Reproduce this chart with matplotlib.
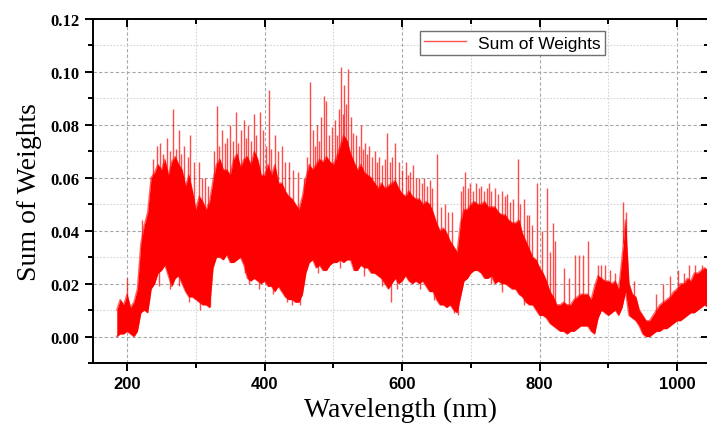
"""Sum of weights versus wavelength, redrawn from a spectrum figure."""

import numpy as np
import matplotlib

matplotlib.use("Agg")
import matplotlib.pyplot as plt
from matplotlib.font_manager import FontProperties
from matplotlib.ticker import MultipleLocator

# Wavelength sampling of the band (nm)
wavelength = np.arange(185, 1050, 5)

# Upper and lower edge of the dense red band, read every 5 nm
band_upper = [
    0.010, 0.014, 0.012, 0.016, 0.011, 0.013, 0.018, 0.035, 0.042, 0.047,  # 185-230
    0.060, 0.062, 0.065, 0.063, 0.067, 0.061, 0.066, 0.068, 0.065, 0.063,  # 235-280
    0.057, 0.061, 0.055, 0.048, 0.053, 0.051, 0.048, 0.051, 0.059, 0.065,  # 285-330
    0.067, 0.063, 0.063, 0.061, 0.067, 0.069, 0.064, 0.067, 0.068, 0.065,  # 335-380
    0.070, 0.067, 0.061, 0.061, 0.065, 0.061, 0.065, 0.058, 0.058, 0.055,  # 385-430
    0.053, 0.052, 0.050, 0.048, 0.053, 0.060, 0.065, 0.063, 0.065, 0.067,  # 435-480
    0.066, 0.068, 0.066, 0.065, 0.068, 0.072, 0.076, 0.074, 0.069, 0.066,  # 485-530
    0.063, 0.065, 0.062, 0.061, 0.060, 0.058, 0.056, 0.058, 0.056, 0.057,  # 535-580
    0.058, 0.059, 0.056, 0.054, 0.053, 0.055, 0.053, 0.052, 0.052, 0.050,  # 585-630
    0.051, 0.050, 0.047, 0.043, 0.040, 0.041, 0.039, 0.036, 0.034, 0.032,  # 635-680
    0.043, 0.048, 0.048, 0.050, 0.051, 0.050, 0.050, 0.051, 0.049, 0.049,  # 685-730
    0.049, 0.047, 0.046, 0.046, 0.044, 0.043, 0.043, 0.044, 0.039, 0.036,  # 735-780
    0.033, 0.030, 0.029, 0.026, 0.024, 0.021, 0.017, 0.015, 0.012, 0.012,  # 785-830
    0.013, 0.012, 0.012, 0.014, 0.015, 0.016, 0.016, 0.016, 0.014, 0.019,  # 835-880
    0.023, 0.022, 0.021, 0.021, 0.020, 0.021, 0.018, 0.030, 0.044, 0.020,  # 885-930
    0.016, 0.015, 0.010, 0.008, 0.006, 0.006, 0.008, 0.010, 0.012, 0.013,  # 935-980
    0.014, 0.015, 0.017, 0.018, 0.020, 0.020, 0.022, 0.021, 0.024, 0.024,  # 985-1030
    0.025, 0.026, 0.025,                                                   # 1035-1045
]
band_lower = [
    0.000, 0.001, 0.001, 0.002, 0.001, 0.000, 0.002, 0.009, 0.010, 0.009,
    0.018, 0.020, 0.024, 0.025, 0.027, 0.023, 0.019, 0.022, 0.023, 0.020,
    0.017, 0.015, 0.015, 0.014, 0.013, 0.012, 0.012, 0.011, 0.026, 0.030,
    0.030, 0.029, 0.031, 0.028, 0.028, 0.029, 0.030, 0.027, 0.022, 0.021,
    0.022, 0.021, 0.020, 0.021, 0.019, 0.019, 0.017, 0.019, 0.017, 0.015,
    0.014, 0.014, 0.013, 0.013, 0.016, 0.024, 0.028, 0.029, 0.026, 0.027,
    0.025, 0.025, 0.027, 0.028, 0.028, 0.029, 0.028, 0.029, 0.029, 0.025,
    0.025, 0.027, 0.026, 0.026, 0.024, 0.024, 0.023, 0.022, 0.020, 0.018,
    0.020, 0.022, 0.020, 0.021, 0.023, 0.021, 0.020, 0.021, 0.020, 0.021,
    0.019, 0.017, 0.017, 0.014, 0.012, 0.012, 0.011, 0.012, 0.010, 0.009,
    0.015, 0.021, 0.022, 0.024, 0.025, 0.025, 0.024, 0.022, 0.022, 0.023,
    0.020, 0.021, 0.020, 0.020, 0.019, 0.018, 0.018, 0.016, 0.015, 0.013,
    0.012, 0.012, 0.010, 0.008, 0.008, 0.007, 0.005, 0.004, 0.003, 0.002,
    0.002, 0.001, 0.002, 0.002, 0.003, 0.004, 0.004, 0.004, 0.002, 0.001,
    0.007, 0.010, 0.009, 0.008, 0.009, 0.010, 0.008, 0.011, 0.017, 0.008,
    0.007, 0.006, 0.004, 0.001, 0.000, 0.000, 0.001, 0.002, 0.002, 0.003,
    0.003, 0.004, 0.005, 0.006, 0.006, 0.007, 0.008, 0.009, 0.009, 0.010,
    0.011, 0.012, 0.011,
]

# Isolated tall lines standing above the band (nm, value)
peak_wavelength = [
    200, 222, 237, 243, 248, 252, 258, 262, 267, 271, 275, 279, 283, 288, 292,
    297, 305, 309, 313, 318, 327, 331, 334, 338, 342, 345, 350, 354, 358, 362,
    365, 370, 373, 376, 380, 384, 388, 393, 398, 402, 406, 410, 415, 419, 425,
    429, 436, 441, 448, 458, 462, 466, 470, 473, 476, 479, 482, 487, 490, 494,
    498, 503, 506, 508, 511, 514, 516, 518, 522, 526, 529, 533, 537, 540, 543,
    546, 549, 552, 556, 560, 563, 567, 571, 575, 578, 582, 585, 590, 595, 600,
    605, 609, 612, 616, 620, 625, 629, 632, 636, 640, 644, 651, 656, 662, 667,
    672, 686, 689, 692, 696, 699, 703, 708, 712, 715, 719, 723, 726, 730, 735,
    739, 745, 749, 752, 757, 762, 768, 772, 777, 781, 784, 789, 796, 803, 811,
    815, 820, 822, 836, 843, 852, 858, 863, 870, 885, 889, 895, 902, 910, 922,
    925, 937, 970, 980, 990, 1002, 1010, 1017, 1026, 1036,
]
peak_value = [
    0.022, 0.044, 0.067, 0.072, 0.073, 0.069, 0.075, 0.070, 0.086, 0.071, 0.078, 0.069, 0.072, 0.068, 0.076,
    0.066, 0.066, 0.060, 0.060, 0.057, 0.070, 0.087, 0.072, 0.078, 0.073, 0.075, 0.080, 0.074, 0.085, 0.073,
    0.078, 0.082, 0.075, 0.080, 0.074, 0.084, 0.076, 0.085, 0.078, 0.072, 0.093, 0.071, 0.076, 0.070, 0.072,
    0.066, 0.066, 0.063, 0.062, 0.060, 0.068, 0.096, 0.078, 0.072, 0.080, 0.074, 0.083, 0.091, 0.089, 0.076,
    0.079, 0.082, 0.076, 0.086, 0.102, 0.084, 0.095, 0.088, 0.101, 0.083, 0.077, 0.076, 0.072, 0.080, 0.071,
    0.073, 0.069, 0.072, 0.068, 0.070, 0.066, 0.068, 0.065, 0.067, 0.077, 0.066, 0.068, 0.073, 0.066, 0.063,
    0.066, 0.061, 0.062, 0.065, 0.060, 0.060, 0.058, 0.060, 0.057, 0.059, 0.056, 0.069, 0.049, 0.050, 0.047,
    0.047, 0.055, 0.057, 0.062, 0.056, 0.058, 0.055, 0.058, 0.056, 0.057, 0.055, 0.056, 0.058, 0.055, 0.056,
    0.054, 0.055, 0.053, 0.054, 0.051, 0.052, 0.067, 0.050, 0.052, 0.046, 0.046, 0.042, 0.058, 0.040, 0.056,
    0.032, 0.043, 0.036, 0.026, 0.022, 0.031, 0.031, 0.031, 0.036, 0.027, 0.027, 0.027, 0.025, 0.024, 0.051,
    0.047, 0.021, 0.016, 0.020, 0.023, 0.025, 0.024, 0.027, 0.027, 0.027,
]

# Short lines dipping below the band (nm, value)
dip_wavelength = [232, 247, 262, 276, 290, 306, 321, 372, 377, 392, 412, 433, 440, 452,
                  478, 509, 545, 571, 584, 593, 626, 647, 657, 676, 681, 730, 746, 778]
dip_value = [0.014, 0.019, 0.018, 0.019, 0.013, 0.010, 0.011, 0.024, 0.020, 0.018, 0.016, 0.013,
             0.012, 0.012, 0.024, 0.026, 0.023, 0.019, 0.013, 0.018, 0.018, 0.014, 0.013, 0.009,
             0.008, 0.020, 0.017, 0.012]

x_tick_values = [200, 400, 600, 800, 1000]
y_tick_values = [0.00, 0.02, 0.04, 0.06, 0.08, 0.10, 0.12]

LINE_RED = "#ff0000"
SERIES_LABEL = "Sum of Weights"


def nearest(values, positions):
    idx = np.clip(np.searchsorted(wavelength, positions), 0, len(wavelength) - 1)
    return np.asarray(values)[idx]


def main() -> None:
    upper = np.array(band_upper)
    lower = np.array(band_lower)
    assert len(upper) == len(lower) == len(wavelength)
    assert len(peak_wavelength) == len(peak_value)
    assert len(dip_wavelength) == len(dip_value)

    fig = plt.figure(figsize=(7.07, 4.27), dpi=100)
    ax = fig.add_axes([0.1311, 0.1475, 0.8717, 0.8057])

    ax.fill_between(wavelength, lower, upper, color=LINE_RED, linewidth=0)
    ax.plot(wavelength, upper, color=LINE_RED, linewidth=1.0, alpha=0.6)
    ax.plot(wavelength, lower, color=LINE_RED, linewidth=1.0, alpha=0.6)

    ax.vlines(peak_wavelength, nearest(upper, peak_wavelength) * 0.8, peak_value,
              color=LINE_RED, linewidth=1.0, alpha=0.7)
    ax.vlines(dip_wavelength, dip_value, nearest(lower, dip_wavelength) * 1.2,
              color=LINE_RED, linewidth=1.0, alpha=0.7)

    # legend handle only
    ax.plot([], [], color="#ff5050", linewidth=1.0, label=SERIES_LABEL)

    ax.set_xlim(150, 1046.4)
    ax.set_ylim(-0.01, 0.12)
    ax.set_xticks(x_tick_values)
    ax.set_yticks(y_tick_values)
    ax.xaxis.set_minor_locator(MultipleLocator(100))
    ax.yaxis.set_minor_locator(MultipleLocator(0.01))
    ax.set_xticklabels([str(v) for v in x_tick_values])
    ax.set_yticklabels([f"{v:.2f}" for v in y_tick_values])

    sans_bold = FontProperties(family="Liberation Sans", weight="bold", size=12)
    serif_bold = FontProperties(family="Liberation Serif", weight="bold", size=12)
    for label in ax.get_xticklabels():
        label.set_fontproperties(sans_bold)
    for label in ax.get_yticklabels():
        label.set_fontproperties(serif_bold)

    ax.set_axisbelow(True)
    ax.grid(which="major", color="#a8a8a8", linestyle=(0, (3, 2)), linewidth=0.8)
    ax.grid(which="minor", color="#d4d4d4", linestyle=(0, (1.5, 1.5)), linewidth=0.8)

    for spine in ax.spines.values():
        spine.set_linewidth(1.4)
    ax.tick_params(which="both", top=True, right=True, width=1.4, direction="out")
    ax.tick_params(which="major", length=6)
    ax.tick_params(which="minor", length=3.5)
    for tick in ax.xaxis.get_major_ticks() + ax.xaxis.get_minor_ticks():
        tick.tick2line.set_marker(3)  # top ticks point inward
    for tick in ax.yaxis.get_major_ticks() + ax.yaxis.get_minor_ticks():
        tick.tick2line.set_marker(0)  # right ticks point inward

    ax.set_xlabel("Wavelength (nm)", fontfamily="Liberation Serif", fontsize=20, labelpad=4)
    ax.set_ylabel("Sum of Weights", fontfamily="Liberation Serif", fontsize=20, labelpad=6)

    ax.legend(loc="upper left", bbox_to_anchor=(0.531, 0.965), borderaxespad=0,
              fancybox=False, framealpha=1, edgecolor="#707070", handlelength=2.4,
              borderpad=0.25, handletextpad=0.7,
              prop={"family": "Liberation Sans", "size": 12.5})

    fig.savefig("out.png", dpi=100)
    plt.close(fig)


if __name__ == "__main__":
    main()
